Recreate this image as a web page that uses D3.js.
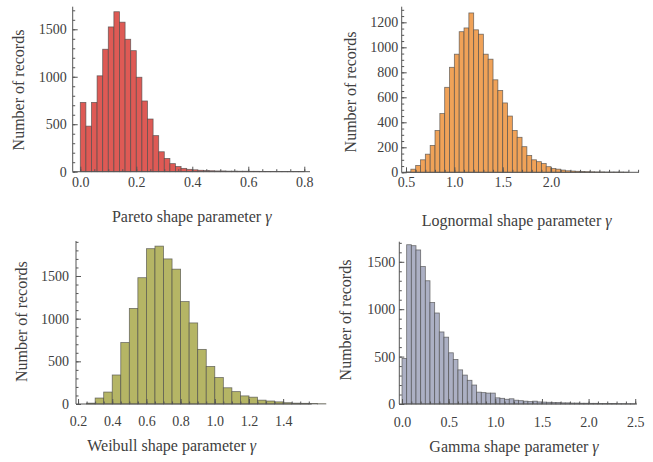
<!DOCTYPE html>
<html><head><meta charset="utf-8">
<script src="https://cdn.jsdelivr.net/npm/d3@7"></script>
<style>body{margin:0;background:#fff}svg{display:block}text{font-family:"Liberation Serif","Times New Roman",serif}</style>
</head><body><svg id="c" width="653" height="462"></svg>
<script>
// ---- data ----
const paretoStart = 0.0, paretoBin = 0.02;
const paretoCounts = [730,480,730,1010,1290,1525,1685,1575,1395,1275,995,745,555,380,210,140,85,55,35,25,20,15,12,10,8,8,6,6,5,5,4,4,3,3,3,2,2,2,3,2];
const lognormalStart = 0.5, lognormalBin = 0.05;
const lognormalCounts = [3,25,55,100,145,215,335,470,680,840,945,1125,1155,1275,1140,1105,945,905,740,655,555,450,335,280,205,135,100,85,70,45,30,25,18,12,10,8,6,5,4,3,3,2,2,2,2,1];
const weibullStart = 0.25, weibullBin = 0.05;
const weibullCounts = [10,70,140,340,720,1120,1480,1820,1850,1700,1580,1200,950,640,440,310,190,145,95,80,45,35,25,15,10,8,5,3];
const gammaStart = 0.0, gammaBin = 0.05;
const gammaCounts = [480,1680,1670,1625,1450,1300,1070,960,760,705,540,470,360,305,250,200,125,120,115,115,65,60,50,55,40,35,30,25,30,22,20,18,15,15,12,12,10,10,8,8,7,7,6,5,5,5,4,4,3,3];
const paretoXTicks = [0,0.2,0.4,0.6,0.8], paretoYTicks = [0,500,1000,1500];
const lognormalXTicks = [0.5,1.0,1.5,2.0], lognormalYTicks = [0,200,400,600,800,1000,1200];
const weibullXTicks = [0.2,0.4,0.6,0.8,1.0,1.2,1.4], weibullYTicks = [0,500,1000,1500];
const gammaXTicks = [0,0.5,1.0,1.5,2.0,2.5], gammaYTicks = [0,500,1000,1500];
const yTitle = "Number of records";

// ---- layout ----
const panels = [
  {name:"Pareto", counts:paretoCounts, start:paretoStart, bin:paretoBin, xt:paretoXTicks, yt:paretoYTicks,
   xMinor:0.05, yMinor:100, xd:[-0.0271,0.8204], xr:[72.7,310], yMax:1738, yr:[171.7,6.7],
   fill:"#de5a55", lblY:183.5, tickGap:6, yTitleX:20.7, yTitleY:90, xTitleX:191.7, xTitleY:218},
  {name:"Lognormal", counts:lognormalCounts, start:lognormalStart, bin:lognormalBin, xt:lognormalXTicks, yt:lognormalYTicks,
   xMinor:0.1, yMinor:50, xd:[0.4555,2.9095], xr:[401.7,639], yMax:1325, yr:[172.3,6.7],
   fill:"#f0a258", lblY:183.5, tickGap:3.5, yTitleX:352, yTitleY:92, xTitleX:516.7, xTitleY:221.7},
  {name:"Weibull", counts:weibullCounts, start:weibullStart, bin:weibullBin, xt:weibullXTicks, yt:weibullYTicks,
   xMinor:0.05, yMinor:100, xd:[0.188,1.567], xr:[76,311.7], yMax:1910, yr:[404,241],
   fill:"#b5b565", lblY:423, tickGap:7, yTitleX:23.3, yTitleY:321.7, xTitleX:171.7, xTitleY:446.7},
  {name:"Gamma", counts:gammaCounts, start:gammaStart, bin:gammaBin, xt:gammaXTicks, yt:gammaYTicks,
   xMinor:0.1, yMinor:100, xd:[-0.029,2.519], xr:[399.3,637], yMax:1712, yr:[404,241.7],
   fill:"#acb0c4", lblY:423.5, tickGap:4, yTitleX:347, yTitleY:320, xTitleX:514, xTitleY:448}
];

const svg = d3.select("#c");
const axisCol = "#555", textCol = "#404040";

panels.forEach(p => {
  const g = svg.append("g");
  const x = d3.scaleLinear().domain(p.xd).range(p.xr);
  const y = d3.scaleLinear().domain([0,p.yMax]).range(p.yr);
  const bins = p.counts.map((c,i)=>({x0:p.start+i*p.bin, x1:p.start+(i+1)*p.bin, c}));
  g.selectAll("rect.bar").data(bins).enter().append("rect")
    .attr("class","bar")
    .attr("x",d=>x(d.x0)).attr("width",d=>x(d.x1)-x(d.x0))
    .attr("y",d=>y(d.c)).attr("height",d=>y(0)-y(d.c))
    .attr("fill",p.fill).attr("stroke","#4a4a4a").attr("stroke-opacity",0.75).attr("stroke-width",0.8);

  // minor ticks
  const xMin = d3.range(Math.ceil(p.xd[0]/p.xMinor)*p.xMinor, p.xd[1], p.xMinor);
  const yMin = d3.range(0, p.yMax, p.yMinor);
  g.append("g").attr("transform",`translate(0,${p.yr[0]})`)
    .call(d3.axisBottom(x).tickValues(xMin).tickSize(-2.5).tickFormat(""))
    .call(a=>a.select(".domain").remove());
  g.append("g").attr("transform",`translate(${p.xr[0]},0)`)
    .call(d3.axisLeft(y).tickValues(yMin).tickSize(-2.5).tickFormat(""))
    .call(a=>a.select(".domain").remove());
  // major axes
  const ax = g.append("g").attr("transform",`translate(0,${p.yr[0]})`)
    .call(d3.axisBottom(x).tickValues(p.xt).tickSize(-5).tickSizeOuter(0).tickPadding(7).tickFormat(d3.format(".1f")));
  ax.select(".domain").attr("d",`M${p.xr[0]},0H${p.xr[1]}`);
  const ay = g.append("g").attr("transform",`translate(${p.xr[0]},0)`)
    .call(d3.axisLeft(y).tickValues(p.yt).tickSize(-5).tickSizeOuter(0).tickPadding(p.tickGap).tickFormat(d3.format("d")));
  ay.select(".domain").attr("d",`M0,${p.yr[1]}V${p.yr[0]}`);
  g.selectAll(".tick line").attr("stroke",axisCol);
  g.selectAll(".domain").attr("stroke",axisCol);
  g.selectAll(".tick text").attr("fill",textCol).attr("font-size",14).attr("font-family","Liberation Serif");
  ax.selectAll(".tick text").attr("dy",null).attr("y",null)
    .attr("transform",null).attr("dominant-baseline","middle").attr("y",p.lblY-p.yr[0]);

  // titles
  g.append("text").attr("transform",`translate(${p.yTitleX},${p.yTitleY}) rotate(-90)`)
    .attr("text-anchor","middle").attr("dominant-baseline","middle")
    .attr("font-size",16).attr("fill",textCol).text(yTitle);
  const t = g.append("text").attr("x",p.xTitleX).attr("y",p.xTitleY)
    .attr("text-anchor","middle").attr("dominant-baseline","middle")
    .attr("font-size",16).attr("fill",textCol);
  t.append("tspan").text(p.name+" shape parameter ");
  t.append("tspan").attr("font-style","italic").text("γ");
});
</script></body></html>
